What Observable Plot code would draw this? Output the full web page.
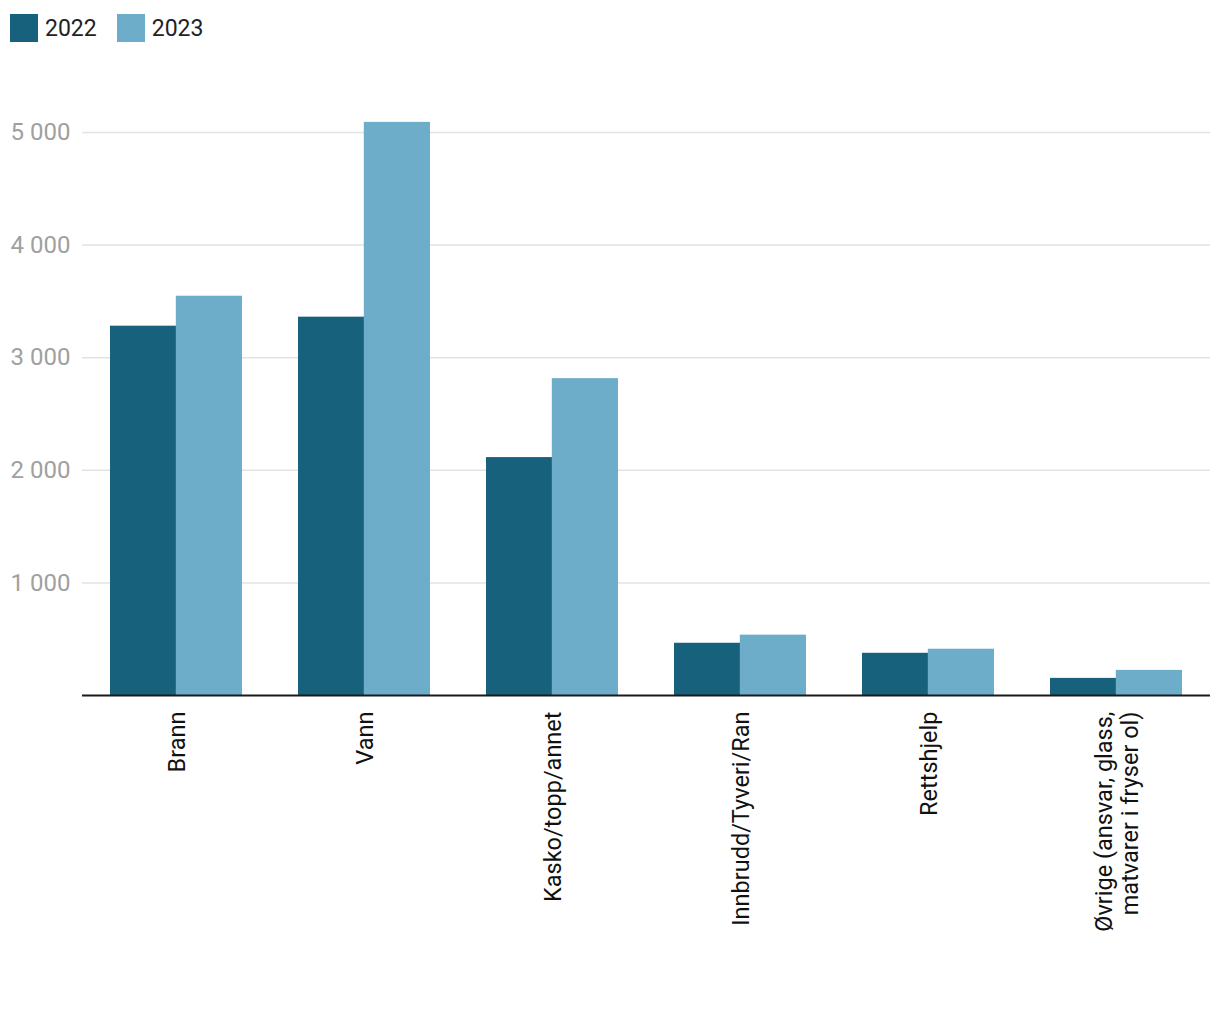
<!DOCTYPE html>
<html>
<head>
<meta charset="utf-8">
<script src="https://cdn.jsdelivr.net/npm/d3@7"></script>
<script src="https://cdn.jsdelivr.net/npm/@observablehq/plot@0.6"></script>
<style>
  html, body { margin: 0; padding: 0; background: #fff; }
  body { width: 1220px; height: 1020px; overflow: hidden; font-family: Roboto, "Liberation Sans", sans-serif; }
  #legend { height: 56px; box-sizing: border-box; padding: 14px 0 0 10px; display: flex; align-items: flex-start; }
  #legend .item { display: flex; align-items: center; margin-right: 20px; height: 28px; }
  #legend .sw { width: 28px; height: 28px; margin-right: 7px; }
  #legend span { font-size: 23px; color: #222; }
  #chart svg { display: block; }
</style>
</head>
<body>
<div id="legend"></div>
<div id="chart"></div>
<script>
const categories = ["Brann", "Vann", "Kasko/topp/annet", "Innbrudd/Tyveri/Ran", "Rettshjelp", "Øvrige (ansvar, glass,\nmatvarer i fryser ol)"];
const years = ["2022", "2023"];
const values2022 = [3280, 3360, 2113, 464, 375, 152];
const values2023 = [3546, 5090, 2814, 536, 411, 223];
const yTicks = [1000, 2000, 3000, 4000, 5000];
const colors = ["#17617c", "#6dadc9"];

const data = [];
categories.forEach((c, i) => {
  data.push({cat: c, year: years[0], value: values2022[i]});
  data.push({cat: c, year: years[1], value: values2023[i]});
});

const nb = d3.formatLocale({decimal: ",", thousands: "\u00a0", grouping: [3], currency: ["", ""]});
const fmt = nb.format(",d");

// legend
const legend = document.getElementById("legend");
years.forEach((y, i) => {
  const it = document.createElement("div");
  it.className = "item";
  it.innerHTML = `<div class="sw" style="background:${colors[i]}"></div><span>${y}</span>`;
  legend.appendChild(it);
});

const width = 1220, height = 964;
const marginLeft = 82, marginRight = 10, marginTop = 76, marginBottom = 325;
const step = (width - marginLeft - marginRight) / categories.length;
const bandwidth = step * 0.7;
const half = bandwidth / 2;

const chart = Plot.plot({
  width, height, marginLeft, marginRight, marginTop, marginBottom,
  style: {fontFamily: "Roboto, 'Liberation Sans', sans-serif", fontSize: "23px", background: "#fff"},
  x: {domain: categories, paddingInner: 0.3, paddingOuter: 0.15, label: null},
  y: {domain: [0, 5000], label: null},
  color: {domain: years, range: colors},
  marks: [
    Plot.gridY(yTicks, {stroke: "#e3e3e3", strokeOpacity: 1, strokeWidth: 1.5}),
    Plot.axisY(yTicks, {tickSize: 0, tickPadding: 12, tickFormat: fmt, fill: "#a0a0a0", fontSize: 24, label: null}),
    Plot.barY(data.filter(d => d.year === years[0]), {x: "cat", y: "value", fill: "year", insetRight: half}),
    Plot.barY(data.filter(d => d.year === years[1]), {x: "cat", y: "value", fill: "year", insetLeft: half}),
    Plot.ruleY([0], {stroke: "#1a1a1a", strokeWidth: 2}),
    Plot.axisX({tickSize: 0, tickPadding: 16, tickRotate: -90, fill: "#111", fontSize: 23.5, lineHeight: 1.1, label: null})
  ]
});
document.getElementById("chart").appendChild(chart);
</script>
</body>
</html>
